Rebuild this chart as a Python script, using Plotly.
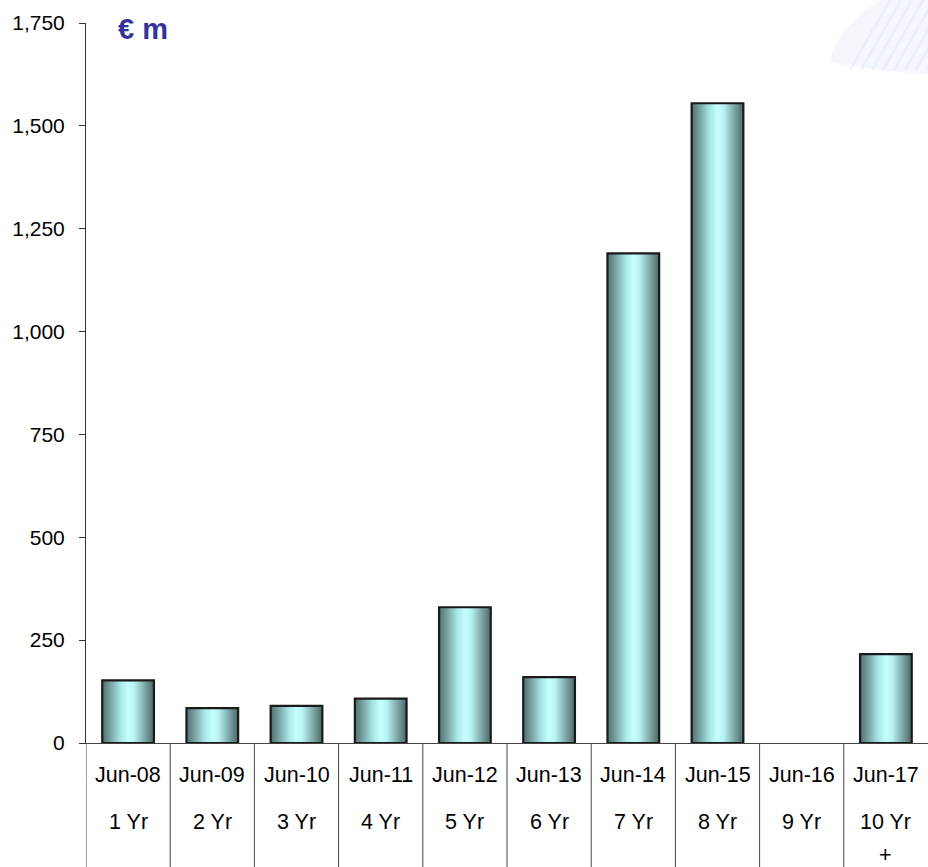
import plotly.graph_objects as go

dates = ["Jun-08", "Jun-09", "Jun-10", "Jun-11", "Jun-12", "Jun-13", "Jun-14", "Jun-15", "Jun-16", "Jun-17"]
tenors = ["1 Yr", "2 Yr", "3 Yr", "4 Yr", "5 Yr", "6 Yr", "7 Yr", "8 Yr", "9 Yr", "10 Yr<br>+"]
values = [152, 85, 90, 108, 330, 160, 1190, 1555, 0, 216]
y_ticks = [0, 250, 500, 750, 1000, 1250, 1500, 1750]

BAR_HALF = 0.307
FONT = "Liberation Sans, Arial, sans-serif"
PLOT_H = 720.0  # plot area height in px (for paper-coordinate placement)


def py(px):
    """pixel row (from top of figure) -> paper y"""
    return (743 - px) / PLOT_H


def pxx(px):
    """pixel column -> paper x"""
    return (px - 86) / 842


fig = go.Figure()

# faint decorative swirl top-right (background)
fig.add_shape(type="path", xref="paper", yref="paper", layer="below",
              path=f"M {pxx(880)} {py(0)} L {pxx(928)} {py(0)} L {pxx(928)} {py(74)} "
                   f"Q {pxx(880)} {py(72)} {pxx(830)} {py(62)} Q {pxx(835)} {py(30)} {pxx(880)} {py(0)} Z",
              fillcolor="rgba(225,233,248,0.35)", line=dict(width=0))
for k in range(8):
    xs = 850 + k * 11
    fig.add_shape(type="line", xref="paper", yref="paper", layer="below",
                  x0=pxx(xs), y0=py(70), x1=pxx(xs + 40), y1=py(0),
                  line=dict(color="rgba(215,225,245,0.35)", width=3))

gradient = dict(
    type="horizontal",
    colorscale=[[0.0, "#4f6f6f"], [0.12, "#6f9595"], [0.35, "#a8e6e6"], [0.5, "#c6ffff"],
                [0.62, "#b8f2f2"], [0.82, "#7fa8a8"], [1.0, "#4a6868"]],
)

for i, v in enumerate(values):
    if v <= 0:
        continue
    x0, x1 = i - BAR_HALF, i + BAR_HALF
    fig.add_trace(go.Scatter(
        x=[x0, x1, x1, x0, x0], y=[0, 0, v, v, 0],
        mode="lines", fill="toself", fillgradient=gradient,
        line=dict(color="#1a1a1a", width=2.2),
        showlegend=False, hoverinfo="skip",
    ))

# Category labels (two rows)
for i, (d, t) in enumerate(zip(dates, tenors)):
    fig.add_annotation(x=i, y=py(775), xref="x", yref="paper", text=d, showarrow=False,
                       font=dict(family=FONT, size=21.5, color="#000"), yanchor="middle")
    for j, part in enumerate(t.split("<br>")):
        fig.add_annotation(x=i, y=py(822 + 33 * j), xref="x", yref="paper", text=part,
                           showarrow=False, font=dict(family=FONT, size=21.5, color="#000"),
                           yanchor="middle")

# Vertical separators below the axis
for k in range(len(dates)):
    fig.add_shape(type="line", xref="x", yref="paper", x0=k - 0.5, x1=k - 0.5,
                  y0=0, y1=py(870), line=dict(color="#444", width=1))

fig.add_annotation(xref="paper", yref="paper", x=pxx(116), y=py(29), text="<b>€ m</b>",
                   showarrow=False, xanchor="left", yanchor="middle",
                   font=dict(family=FONT, size=29, color="#333399"))

fig.update_layout(
    width=928, height=867,
    margin=dict(l=86, r=0, t=23, b=124, autoexpand=False),
    paper_bgcolor="white", plot_bgcolor="rgba(0,0,0,0)",
    xaxis=dict(range=[-0.5, 9.5], showticklabels=False, showgrid=False, zeroline=False,
               showline=True, linecolor="#444", linewidth=1, ticks=""),
    yaxis=dict(range=[0, 1750], tickvals=y_ticks, tickformat=",d", showgrid=False, zeroline=False,
               showline=True, linecolor="#333", linewidth=1, ticks="outside", ticklen=6,
               tickcolor="#333", ticklabelstandoff=10,
               tickfont=dict(family=FONT, size=21, color="#000")),
    showlegend=False,
)

fig.write_html("out.html", config={"displayModeBar": False},
               post_script="document.body.style.margin='0';document.body.style.overflow='hidden';")
